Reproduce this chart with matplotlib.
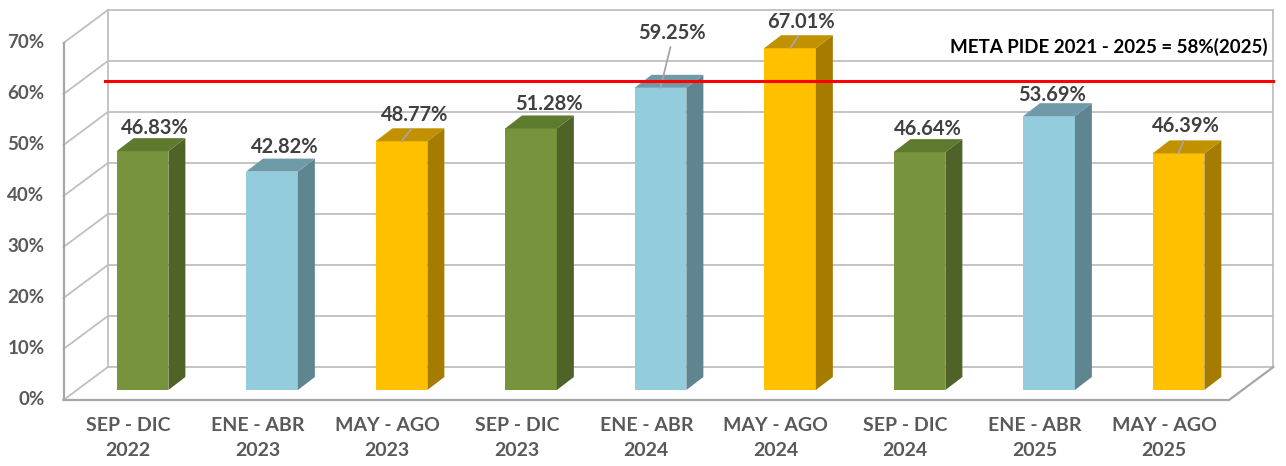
import matplotlib.pyplot as plt
from matplotlib.patches import Polygon

plt.rcParams['font.family'] = ['Lato', 'DejaVu Sans']

# data
periods = ["SEP - DIC\n2022", "ENE - ABR\n2023", "MAY - AGO\n2023",
           "SEP - DIC\n2023", "ENE - ABR\n2024", "MAY - AGO\n2024",
           "SEP - DIC\n2024", "ENE - ABR\n2025", "MAY - AGO\n2025"]
values = [46.83, 42.82, 48.77, 51.28, 59.25, 67.01, 46.64, 53.69, 46.39]
meta_line = 56.1   # where the red line sits on the back wall grid
meta_text = "META PIDE 2021 - 2025 = 58%(2025)"
y_ticks = [0, 10, 20, 30, 40, 50, 60, 70]

# styling / layout
face = {"green": ("#77933c", "#4f6228", "#5e7a2f"),
        "blue": ("#93cddd", "#5f8590", "#6f9aa8"),
        "gold": ("#ffc000", "#a67c00", "#c29100")}
bar_colors = ["green", "blue", "gold"] * 3
label_offsets = [(12, 23), (13, 25), (13, 26), (18, 24), (11, 55),
                 (11, 26), (8, 23), (3, 21), (7, 27)]
leader = [False, False, True, False, True, True, False, False, True]

BAR_W = 0.4
DEPTH = (0.131, 2.55)    # bar depth offset (x, y)
BACK = (0.232, 4.5)      # back wall offset from bar plane
FRONT = (-0.11, -1.96)   # front edge offset from bar plane
GRID = "#bfbfbf"
n = len(values)

fig = plt.figure(figsize=(12.86, 4.66), dpi=100)
ax = fig.add_axes([0, 0, 1, 1])
ax.set_xlim(-142.5 / 129.5, (1286 - 142.5) / 129.5)
ax.set_ylim(-(466 - 390) / 5.1, 390 / 5.1)
ax.axis("off")

x0, x1 = -0.5, n - 0.5
top = y_ticks[-1]

# walls and gridlines
for v in y_ticks:
    ax.plot([x0 + BACK[0], x1 + BACK[0]], [v + BACK[1]] * 2, color=GRID, lw=1.3, zorder=1)
    ax.plot([x0 + FRONT[0], x0 + BACK[0]], [v + FRONT[1], v + BACK[1]], color=GRID, lw=1.3, zorder=1)
for xe in (x0, x1):
    ax.plot([xe + BACK[0]] * 2, [BACK[1], top + BACK[1]], color=GRID, lw=1.3, zorder=1)
ax.plot([x0 + FRONT[0]] * 2, [FRONT[1], top + FRONT[1]], color="#a6a6a6", lw=1.6, zorder=1)
ax.plot([x0 + FRONT[0], x1 + FRONT[0], x1 + BACK[0]],
        [FRONT[1], FRONT[1], BACK[1]], color="#a6a6a6", lw=1.6, zorder=1)

# 3d bars
for i, v in enumerate(values):
    fc, sc, tc = face[bar_colors[i]]
    l, r = i - BAR_W / 2, i + BAR_W / 2
    dx, dy = DEPTH
    ax.add_patch(Polygon([(l, 0), (r, 0), (r, v), (l, v)], closed=True,
                         fc=fc, ec="none", zorder=3))
    ax.add_patch(Polygon([(r, 0), (r + dx, dy), (r + dx, v + dy), (r, v)], closed=True,
                         fc=sc, ec="none", zorder=3))
    ax.add_patch(Polygon([(l, v), (r, v), (r + dx, v + dy), (l + dx, v + dy)], closed=True,
                         fc=tc, ec="none", zorder=3))
    arrow = None
    if leader[i]:
        arrow = dict(arrowstyle="-", color="#a6a6a6", lw=1.3, shrinkA=1, shrinkB=0,
                     relpos=(0.5, 0.0))
    ax.annotate(f"{v:.2f}%", (i, v), xytext=label_offsets[i], textcoords="offset pixels",
                ha="center", va="center", fontsize=14.5, fontweight="bold",
                color="#404040", arrowprops=arrow, zorder=5)

# goal line
ax.plot([x0 + BACK[0] - 0.02, x1 + BACK[0]], [meta_line + BACK[1]] * 2,
        color="#ff0000", lw=2.2, zorder=6)
ax.annotate(meta_text, (x1 + BACK[0], meta_line + BACK[1]), xytext=(-6, 34),
            textcoords="offset pixels", ha="right", va="center", fontsize=13.5,
            fontweight="bold", color="black")

# axis labels
for v in y_ticks:
    ax.annotate(f"{v}%", (x0 + FRONT[0], v + FRONT[1]), xytext=(-19, 0),
                textcoords="offset pixels", ha="right", va="center",
                fontsize=13.5, fontweight="bold", color="#595959")
for i, p in enumerate(periods):
    ax.annotate(p, (i + FRONT[0], FRONT[1]), xytext=(0, -38), textcoords="offset pixels",
                ha="center", va="center", fontsize=14, fontweight="bold",
                color="#595959", linespacing=1.6)

fig.savefig("out.png", dpi=100)
